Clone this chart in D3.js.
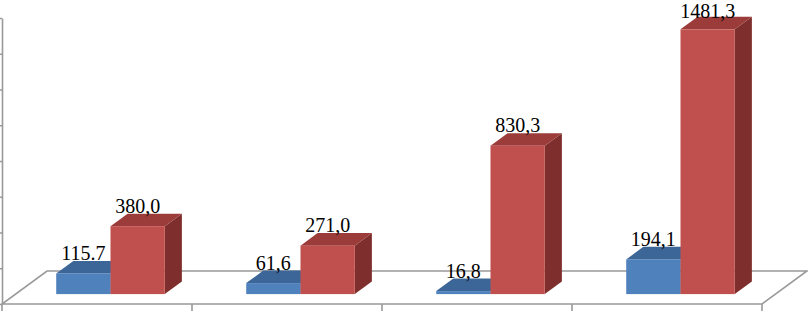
<!DOCTYPE html>
<html>
<head>
<meta charset="utf-8">
<script src="https://cdn.jsdelivr.net/npm/d3@7"></script>
<style>
  html, body { margin: 0; padding: 0; background: #fff; }
  svg { display: block; }
</style>
</head>
<body>
<div id="chart"></div>
<script>
const categories = ["1", "2", "3", "4"];
const seriesNames = ["Ряд 1", "Ряд 2"];
const series1 = [115.7, 61.6, 16.8, 194.1];
const series2 = [380.0, 271.0, 830.3, 1481.3];
const labels1 = ["115.7", "61,6", "16,8", "194,1"];
const labels2 = ["380,0", "271,0", "830,3", "1481,3"];
const yTicks = [0, 200, 400, 600, 800, 1000, 1200, 1400, 1600];

const width = 808;
const height = 312;

// oblique projection of the depth axis (floor goes back-right)
const depthX = 45;
const depthY = -33;
const barFront = 0.3;
const barBack = 0.68;

const faces = [
  { front: "#4f81bd", top: "#3d6698", side: "#2f5280" },
  { front: "#c0504d", top: "#9c3c3a", side: "#7e2f2d" },
];

const svg = d3
  .select("#chart")
  .append("svg")
  .attr("width", width)
  .attr("height", height);

const x0 = d3.scaleBand().domain(categories).range([2, 762]);
const x1 = d3
  .scaleBand()
  .domain(seriesNames)
  .range([0, x0.bandwidth()])
  .paddingInner(0)
  .paddingOuter(0.75);

const y = d3.scaleLinear().domain([0, 1600]).range([304, 18]);

const proj = (x, v, d) => [x + d * depthX, y(v) + d * depthY];

// floor
const floorPts = [
  proj(x0.range()[0], 0, 0),
  proj(x0.range()[1], 0, 0),
  proj(x0.range()[1], 0, 1),
  proj(x0.range()[0], 0, 1),
];
svg
  .append("path")
  .attr("d", d3.line()(floorPts) + "Z")
  .attr("fill", "none")
  .attr("stroke", "#999")
  .attr("stroke-width", 1.6);

// value axis
const yAxisG = svg
  .append("g")
  .attr("transform", "translate(2,0)")
  .call(d3.axisLeft(y).tickValues(yTicks).tickSizeInner(4).tickSizeOuter(0).tickFormat(""));
yAxisG.selectAll("path, line").attr("stroke", "#999").attr("stroke-width", 1.6);

// category ticks on the front edge
const edges = categories.map((c) => x0(c)).concat([x0.range()[1]]);
svg
  .selectAll("line.cat-tick")
  .data(edges)
  .enter()
  .append("line")
  .attr("class", "cat-tick")
  .attr("x1", (d) => d)
  .attr("x2", (d) => d)
  .attr("y1", y(0))
  .attr("y2", y(0) + 7)
  .attr("stroke", "#999")
  .attr("stroke-width", 1.6);

const data = [];
categories.forEach((c, i) => {
  data.push({ cat: c, s: 0, value: series1[i], label: labels1[i] });
  data.push({ cat: c, s: 1, value: series2[i], label: labels2[i] });
});

const bars = svg
  .selectAll("g.bar")
  .data(data)
  .enter()
  .append("g")
  .attr("class", "bar");

const line = d3.line();

bars.each(function (d) {
  const g = d3.select(this);
  const xl = x0(d.cat) + x1(seriesNames[d.s]);
  const xr = xl + x1.bandwidth();
  const col = faces[d.s];

  // right side
  g.append("path")
    .attr("d", line([proj(xr, 0, barFront), proj(xr, 0, barBack), proj(xr, d.value, barBack), proj(xr, d.value, barFront)]) + "Z")
    .attr("fill", col.side);

  // top
  g.append("path")
    .attr("d", line([proj(xl, d.value, barFront), proj(xr, d.value, barFront), proj(xr, d.value, barBack), proj(xl, d.value, barBack)]) + "Z")
    .attr("fill", col.top);

  // front
  const [fx, fy] = proj(xl, d.value, barFront);
  const [, fb] = proj(xl, 0, barFront);
  g.append("rect")
    .attr("x", fx)
    .attr("y", fy)
    .attr("width", xr - xl)
    .attr("height", fb - fy)
    .attr("fill", col.front);
});

// data labels (kept inside the top edge)
svg
  .selectAll("text.lbl")
  .data(data)
  .enter()
  .append("text")
  .attr("class", "lbl")
  .attr("x", (d) => proj(x0(d.cat) + x1(seriesNames[d.s]) + x1.bandwidth() / 2, 0, barFront)[0])
  .attr("y", (d) => Math.max(18, proj(0, d.value, barBack)[1] - 1))
  .attr("text-anchor", "middle")
  .attr("fill", "#000")
  .style("font-family", "'Liberation Serif', 'Times New Roman', serif")
  .style("font-size", "20px")
  .text((d) => d.label);
</script>
</body>
</html>
